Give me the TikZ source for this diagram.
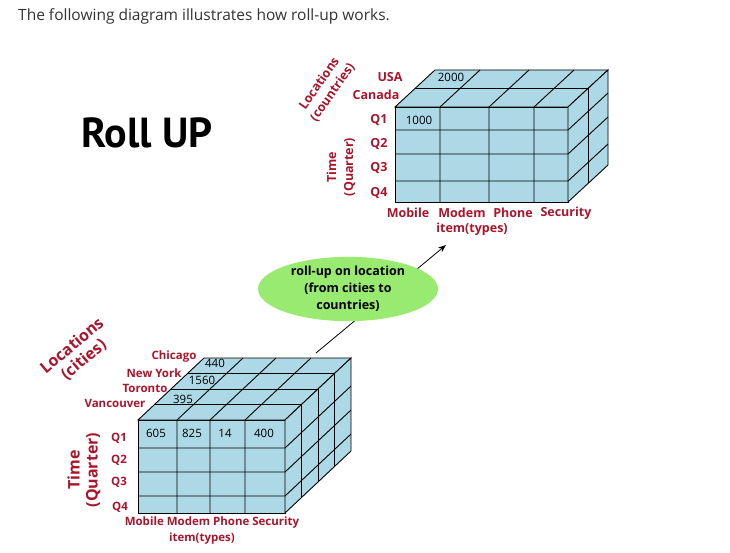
\documentclass[tikz,border=0pt]{standalone}
\usepackage{fontspec}
\setmainfont{Open Sans}
\newfontfamily\titlefont{PT Sans}
\usetikzlibrary{shapes.geometric,arrows.meta}
\definecolor{cubeblue}{RGB}{173,216,230}
\definecolor{labelred}{RGB}{172,20,44}
\definecolor{rollgreen}{RGB}{152,234,112}
\definecolor{headgray}{RGB}{51,51,51}
\tikzset{
  face/.style={fill=cubeblue,draw=black,line width=0.9pt},
  grid/.style={draw=black,line width=0.9pt},
  lbl/.style={text=labelred,font=\bfseries\fontsize{12.5}{14}\selectfont,inner sep=0pt},
  smalllbl/.style={text=labelred,font=\bfseries\fontsize{11.5}{12}\selectfont,inner sep=0pt},
  biglbl/.style={text=labelred,font=\bfseries\fontsize{16}{18}\selectfont,inner sep=0pt,align=center},
  val/.style={font=\fontsize{11.5}{13}\selectfont,inner sep=0pt},
}

\begin{document}
\begin{tikzpicture}[x=1pt,y=-1pt]
\useasboundingbox (0,0) rectangle (730,553);

\node[anchor=west,text=headgray,font=\fontsize{15.5}{18}\selectfont,inner sep=0pt] (intro) at (18,16) {The following diagram illustrates how roll-up works.};
\node[font=\titlefont\bfseries\fontsize{42}{48}\selectfont,inner sep=0pt] (title) at (147,133) {Roll UP};

% top cube: countries
\draw[face] (395,107) rectangle (568,202);
\draw[face] (395,107) -- (435,70) -- (608,70) -- (568,107) -- cycle;
\draw[face] (568,107) -- (608,70) -- (608,165) -- (568,202) -- cycle;
\foreach \x in {440,489,534}
  \draw[grid] (\x,202) -- (\x,107) -- ++(40,-37);
\foreach \y in {130,154,181}
  \draw[grid] (395,\y) -- (568,\y) -- ++(40,-37);
\draw[grid] (415,88.5) -- (588,88.5) -- (588,183.5);

\node[lbl] (usa) at (390,77) {USA};
\node[lbl] (canada) at (376,95) {Canada};
\node[lbl] (q1) at (379,120) {Q1};
\node[lbl] (q2) at (379,144) {Q2};
\node[lbl] (q3) at (379,168) {Q3};
\node[lbl] (q4) at (379,193) {Q4};
\node[lbl] (mobile) at (408,213) {Mobile};
\node[lbl] (modem) at (462,213) {Modem};
\node[lbl] (phone) at (513,213) {Phone};
\node[lbl] (security) at (566,213) {Security};
\node[lbl] (items) at (472,229) {item(types)};
\node[val] (v2000) at (451,77) {2000};
\node[val] (v1000) at (419,120) {1000};
\node[lbl,align=center,rotate=55,font=\bfseries\fontsize{12.5}{16}\selectfont] (countries) at (326,88) {Locations\\(countries)};
\node[lbl,align=center,rotate=90,font=\bfseries\fontsize{12.5}{17}\selectfont] (timetop) at (341,167) {Time\\(Quarter)};

% bottom cube: cities
\draw[face] (138,420) rectangle (285,513);
\draw[face] (138,420) -- (204,358) -- (351,358) -- (285,420) -- cycle;
\draw[face] (285,420) -- (351,358) -- (351,451) -- (285,513) -- cycle;
\foreach \x in {177,210,245}
  \draw[grid] (\x,513) -- (\x,420) -- ++(66,-62);
\foreach \y in {448,472,496}
  \draw[grid] (138,\y) -- (285,\y) -- ++(66,-62);
\foreach \k in {1,2,3}
  \draw[grid] (138+16.5*\k,420-15.5*\k) -- (285+16.5*\k,420-15.5*\k) -- (285+16.5*\k,513-15.5*\k);

\node[smalllbl] (chicago) at (174,357) {Chicago};
\node[smalllbl] (newyork) at (154,373) {New York};
\node[smalllbl] (toronto) at (145,388) {Toronto};
\node[smalllbl] (vancouver) at (115,403) {Vancouver};
\node[smalllbl] (c1) at (119,438) {Q1};
\node[smalllbl] (c2) at (119,460) {Q2};
\node[smalllbl] (c3) at (119,482) {Q3};
\node[smalllbl] (c4) at (120,507) {Q4};
\node[smalllbl] (cityitems) at (212,523) {Mobile Modem Phone Security};
\node[smalllbl] (citytypes) at (202,539) {item(types)};
\node[val] (v440) at (215,363) {440};
\node[val] (v1560) at (202,380) {1560};
\node[val] (v395) at (183,399) {395};
\node[val] (v605) at (156,433) {605};
\node[val] (v825) at (192,433) {825};
\node[val] (v14) at (225,433) {14};
\node[val] (v400) at (264,433) {400};
\node[biglbl,rotate=40] (cities) at (78,353) {Locations\\(cities)};
\node[biglbl,rotate=90] (timebottom) at (84,470) {Time\\(Quarter)};

% roll-up arrow
\coordinate (rollfrom) at (316,353);
\coordinate (rollto) at (446,245);
\draw[-{Stealth[length=8pt,width=6pt]},line width=0.8pt] (rollfrom) -- (rollto);
\node[ellipse,fill=rollgreen,minimum width=180pt,minimum height=62pt,inner sep=0pt,align=center,font=\bfseries\fontsize{12.5}{17}\selectfont] (rollup) at (348,289) {roll-up on location\\(from cities to\\countries)};
\end{tikzpicture}
\end{document}
